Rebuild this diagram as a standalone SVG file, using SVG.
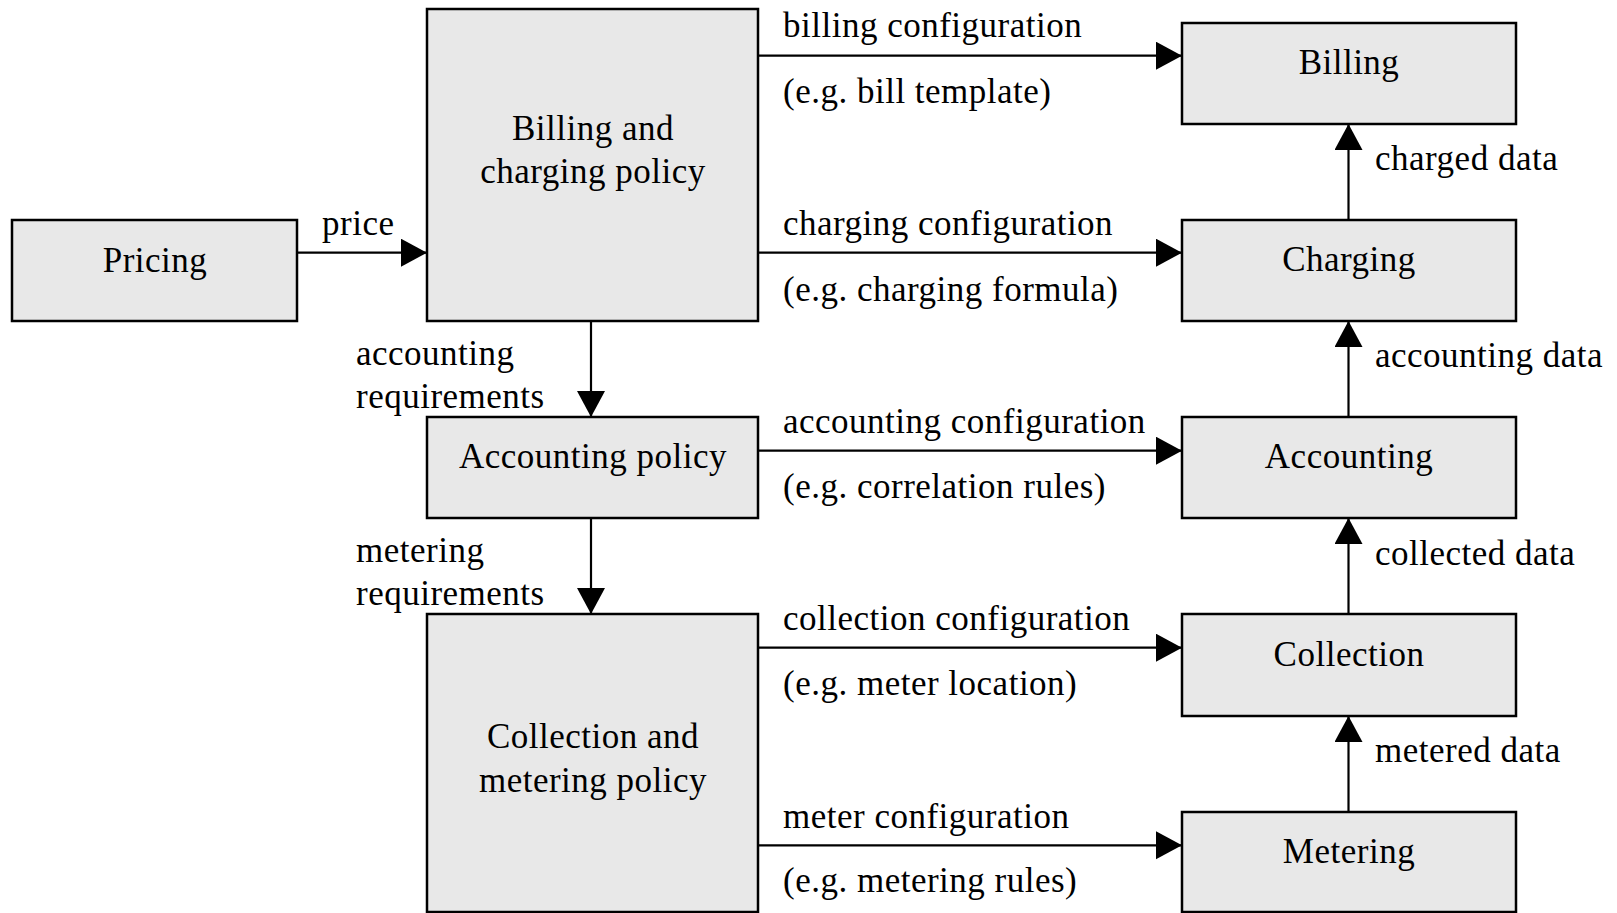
<svg xmlns="http://www.w3.org/2000/svg" width="1617" height="913" viewBox="0 0 1617 913">
<style>
.box{fill:#e8e8e8;stroke:#000;stroke-width:2.5}
.t{font-family:"Liberation Serif","Times New Roman",serif;font-size:35px;letter-spacing:0.5px;fill:#000}
.c{text-anchor:middle}
.ln{stroke:#000;stroke-width:2.2;fill:none}
</style>
<defs>
<marker id="ah" markerUnits="userSpaceOnUse" markerWidth="28" markerHeight="30" refX="26" refY="14" orient="auto">
<path d="M0,0 L26,14 L0,28 Z" fill="#000"/>
</marker>
</defs>
<rect width="1617" height="913" fill="#fff"/>
<g id="connectors">
<line class="ln" x1="297" y1="252.7" x2="427" y2="252.7" marker-end="url(#ah)"/>
<line class="ln" x1="757" y1="55.7" x2="1182" y2="55.7" marker-end="url(#ah)"/>
<line class="ln" x1="757" y1="252.7" x2="1182" y2="252.7" marker-end="url(#ah)"/>
<line class="ln" x1="757" y1="450.7" x2="1182" y2="450.7" marker-end="url(#ah)"/>
<line class="ln" x1="757" y1="647.7" x2="1182" y2="647.7" marker-end="url(#ah)"/>
<line class="ln" x1="757" y1="845.3" x2="1182" y2="845.3" marker-end="url(#ah)"/>
<line class="ln" x1="591" y1="321" x2="591" y2="417" marker-end="url(#ah)"/>
<line class="ln" x1="591" y1="518" x2="591" y2="614" marker-end="url(#ah)"/>
<line class="ln" x1="1348.5" y1="220" x2="1348.5" y2="124" marker-end="url(#ah)"/>
<line class="ln" x1="1348.5" y1="417" x2="1348.5" y2="321" marker-end="url(#ah)"/>
<line class="ln" x1="1348.5" y1="614" x2="1348.5" y2="518" marker-end="url(#ah)"/>
<line class="ln" x1="1348.5" y1="812" x2="1348.5" y2="716" marker-end="url(#ah)"/>
<text class="t" x="322" y="235">price</text>
<text class="t" x="356" y="365">accounting</text>
<text class="t" x="356" y="408">requirements</text>
<text class="t" x="356" y="562">metering</text>
<text class="t" x="356" y="605">requirements</text>
<text class="t" x="783" y="37">billing configuration</text>
<text class="t" x="783" y="103">(e.g. bill template)</text>
<text class="t" x="783" y="235">charging configuration</text>
<text class="t" x="783" y="301">(e.g. charging formula)</text>
<text class="t" x="783" y="433">accounting configuration</text>
<text class="t" x="783" y="498">(e.g. correlation rules)</text>
<text class="t" x="783" y="630">collection configuration</text>
<text class="t" x="783" y="695">(e.g. meter location)</text>
<text class="t" x="783" y="828">meter configuration</text>
<text class="t" x="783" y="892">(e.g. metering rules)</text>
<text class="t" x="1375" y="170">charged data</text>
<text class="t" x="1375" y="367">accounting data</text>
<text class="t" x="1375" y="565">collected data</text>
<text class="t" x="1375" y="762">metered data</text>
</g>
<g id="pricing">
<rect class="box" x="12" y="220" width="285" height="101"/>
<text class="t c" x="155" y="272">Pricing</text>
</g>
<g id="billing-charging-policy">
<rect class="box" x="427" y="9" width="331" height="312"/>
<text class="t c" x="593" y="140">Billing and</text>
<text class="t c" x="593" y="183">charging policy</text>
</g>
<g id="accounting-policy">
<rect class="box" x="427" y="417" width="331" height="101"/>
<text class="t c" x="593" y="468">Accounting policy</text>
</g>
<g id="collection-metering-policy">
<rect class="box" x="427" y="614" width="331" height="298"/>
<text class="t c" x="593" y="748">Collection and</text>
<text class="t c" x="593" y="792">metering policy</text>
</g>
<g id="billing">
<rect class="box" x="1182" y="23" width="334" height="101"/>
<text class="t c" x="1349" y="74">Billing</text>
</g>
<g id="charging">
<rect class="box" x="1182" y="220" width="334" height="101"/>
<text class="t c" x="1349" y="271">Charging</text>
</g>
<g id="accounting">
<rect class="box" x="1182" y="417" width="334" height="101"/>
<text class="t c" x="1349" y="468">Accounting</text>
</g>
<g id="collection">
<rect class="box" x="1182" y="614" width="334" height="102"/>
<text class="t c" x="1349" y="666">Collection</text>
</g>
<g id="metering">
<rect class="box" x="1182" y="812" width="334" height="100"/>
<text class="t c" x="1349" y="863">Metering</text>
</g>
</svg>
